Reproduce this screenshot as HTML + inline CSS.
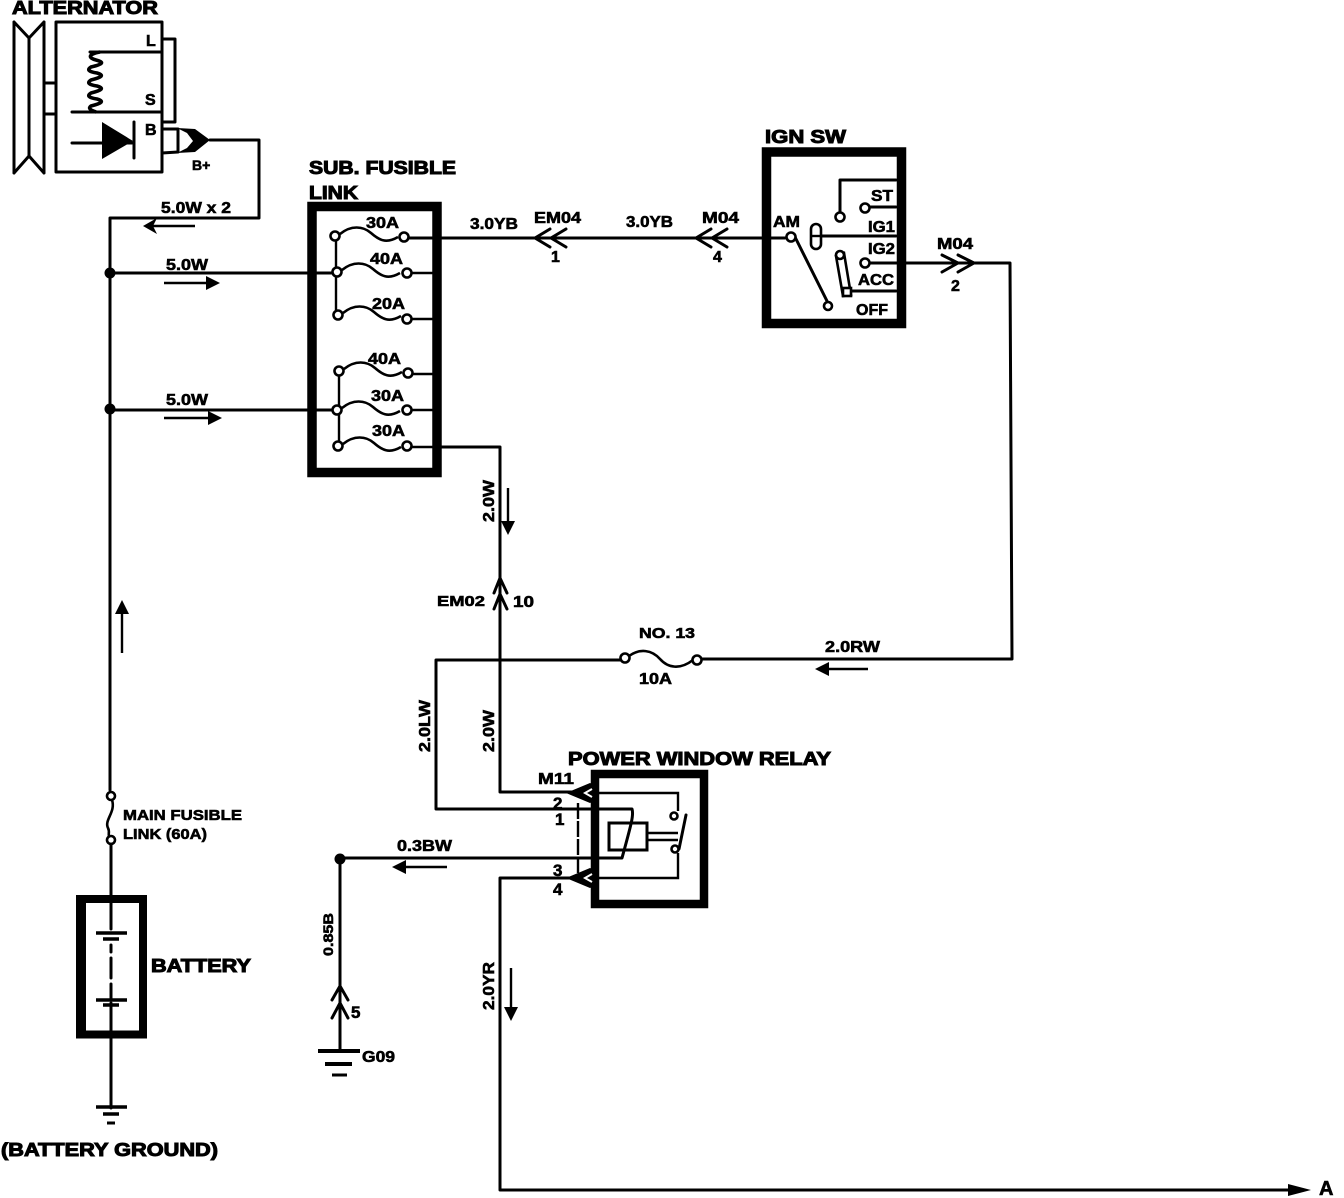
<!DOCTYPE html>
<html><head><meta charset="utf-8"><style>
html,body{margin:0;padding:0;background:#fff}
svg{display:block}
text{font-family:"Liberation Sans",sans-serif;font-weight:bold;fill:#000;stroke:#000;stroke-width:.6}
.w{fill:none;stroke:#000;stroke-width:3;stroke-linejoin:round;stroke-linecap:round}
.t{fill:none;stroke:#000;stroke-width:2.4}
.c{fill:#fff;stroke:#000;stroke-width:2.6}
.f{fill:none;stroke:#000;stroke-width:2.6}
.h{fill:#000;stroke:none}
.s{font-size:16px}.l{font-size:18px;stroke-width:1}
</style></head><body>
<svg width="1344" height="1198" viewBox="0 0 1344 1198" xmlns="http://www.w3.org/2000/svg">
<rect width="1344" height="1198" fill="#fff"/>
<defs>
<path id="fuse" d="M0,0c11,-9 23,-8 31,-1s15,11 27,4" class="f"/>
<path id="al" d="M0,0L14,-8L10,0L14,8Z" class="h"/>
</defs>

<!-- Alternator -->
<text x="12" y="14" class="l" textLength="146" lengthAdjust="spacingAndGlyphs">ALTERNATOR</text>
<path class="w" d="M14,22V173M44,22V173M29,38V157M14,22L29,38L44,22M14,173L29,156L44,173M44,83H56M44,114H56"/>
<path class="w" d="M56,22H162V172H56ZM162,39H175V122H162M90,52H160M72,112H160M72,143H132"/>
<path class="t" style="stroke-width:3.6" d="M100,52C88,54 88,58 96,60C104,62 104,64 91,67C86,70 90,72 97,73C104,75 103,77 91,80C86,83 90,85 97,86C104,88 103,90 91,93C86,96 90,98 97,99C104,101 103,103 91,106C88,108 90,110 96,112"/>
<path class="h" d="M102,122L133,141L102,159Z"/>
<path class="w" d="M134,122V158"/>
<path class="w" d="M162,129H178V152L162,153"/>
<path class="h" d="M177,128L195,129L210,140L195,152L177,153L187,148L193,141L187,133Z"/>
<text x="146" y="46" class="s">L</text><text x="145" y="105" class="s">S</text><text x="145" y="135" class="s">B</text><text x="192" y="170" font-size="14">B+</text>
<path class="w" d="M210,140H259V218H110V790"/>
<text x="161" y="213" class="s" textLength="70" lengthAdjust="spacingAndGlyphs">5.0W x 2</text>
<path class="t" d="M150,226H195"/><use href="#al" x="143" y="226"/>

<!-- Left wires -->
<circle cx="110" cy="273" r="5.500" class="h"/><circle cx="110" cy="409" r="5.500" class="h"/>
<path class="w" d="M110,273H335M110,410H335"/>
<text x="166" y="270" class="s" textLength="42" lengthAdjust="spacingAndGlyphs">5.0W</text>
<text x="166" y="405" class="s" textLength="42" lengthAdjust="spacingAndGlyphs">5.0W</text>
<path class="t" d="M164,283H212M164,418H214"/>
<path class="h" d="M220,283L206,276V290ZM222,418L208,411V425Z"/>
<path class="t" d="M122,610V653"/><path class="h" d="M122,600L115,614H129Z"/>

<!-- Sub fusible link -->
<text x="309" y="174" class="l" textLength="147" lengthAdjust="spacingAndGlyphs">SUB. FUSIBLE</text>
<text x="309" y="199" class="l" textLength="49" lengthAdjust="spacingAndGlyphs">LINK</text>
<rect x="312" y="206.500" width="125" height="266" fill="none" stroke="#000" stroke-width="9.500"/>
<path class="t" d="M336,240V315M339,375V446"/>
<use href="#fuse" x="340" y="234"/><use href="#fuse" x="342" y="270"/><use href="#fuse" x="343" y="313"/>
<use href="#fuse" x="344" y="369"/><use href="#fuse" x="342" y="408"/><use href="#fuse" x="343" y="444"/>
<path class="t" d="M412,273H433M412,319H433M413,374H433M412,410H433M412,447H441"/>
<circle class="c" cx="335" cy="236" r="4.500"/><circle class="c" cx="404" cy="237" r="4.500"/>
<circle class="c" cx="337" cy="272" r="4.500"/><circle class="c" cx="407" cy="273" r="4.500"/>
<circle class="c" cx="338" cy="315" r="4.500"/><circle class="c" cx="407" cy="319" r="4.500"/>
<circle class="c" cx="339" cy="371" r="4.500"/><circle class="c" cx="408" cy="373" r="4.500"/>
<circle class="c" cx="337" cy="410" r="4.500"/><circle class="c" cx="407" cy="410" r="4.500"/>
<circle class="c" cx="338" cy="446" r="4.500"/><circle class="c" cx="407" cy="446" r="4.500"/>
<g class="s"><text x="366" y="228" textLength="33" lengthAdjust="spacingAndGlyphs">30A</text>
<text x="370" y="264" textLength="33" lengthAdjust="spacingAndGlyphs">40A</text>
<text x="372" y="309" textLength="33" lengthAdjust="spacingAndGlyphs">20A</text>
<text x="368" y="364" textLength="33" lengthAdjust="spacingAndGlyphs">40A</text>
<text x="371" y="401" textLength="33" lengthAdjust="spacingAndGlyphs">30A</text>
<text x="372" y="436" textLength="33" lengthAdjust="spacingAndGlyphs">30A</text></g>

<!-- top wire -->
<path class="w" d="M409,238H785"/>
<text x="470" y="229" class="s" textLength="48" lengthAdjust="spacingAndGlyphs">3.0YB</text>
<text x="626" y="227" class="s" textLength="47" lengthAdjust="spacingAndGlyphs">3.0YB</text>
<text x="534" y="223" class="s" textLength="47" lengthAdjust="spacingAndGlyphs">EM04</text>
<text x="702" y="223" class="s" textLength="37" lengthAdjust="spacingAndGlyphs">M04</text>
<text x="551" y="262" font-size="16">1</text><text x="713" y="262" font-size="16">4</text>
<path class="w" d="M550,229L535,238L550,247M566,229L551,238L566,247M711,229L696,238L711,247M727,229L712,238L727,247"/>

<!-- IGN SW -->
<text x="765" y="143" class="l" textLength="81" lengthAdjust="spacingAndGlyphs">IGN SW</text>
<rect x="766.500" y="152" width="135" height="171.500" fill="none" stroke="#000" stroke-width="9.500"/>
<path class="w" d="M896,180H840V212M869,207H896M795,237L827,301M821,236H896M869,263H1010L1012,659H702M851,291H896"/>
<circle class="c" cx="840" cy="217" r="4.500"/><circle class="c" cx="865" cy="208" r="4.500"/><circle class="c" cx="791" cy="237" r="4.500"/><circle class="c" cx="828" cy="306" r="4"/><circle class="c" cx="865" cy="263" r="4.500"/>
<rect class="c" x="811" y="224" width="10" height="25" rx="5"/><path class="t" d="M811,236H821"/>
<path class="c" d="M836,256L844,253L851,295L843,296Z"/><circle class="c" cx="840" cy="255" r="4"/><rect class="c" x="843" y="288" width="8" height="8"/>
<g class="s"><text x="871" y="201" textLength="22" lengthAdjust="spacingAndGlyphs">ST</text><text x="868" y="232" textLength="27" lengthAdjust="spacingAndGlyphs">IG1</text><text x="868" y="254" textLength="27" lengthAdjust="spacingAndGlyphs">IG2</text><text x="858" y="285" textLength="36" lengthAdjust="spacingAndGlyphs">ACC</text><text x="856" y="315" textLength="32" lengthAdjust="spacingAndGlyphs">OFF</text><text x="773" y="227" textLength="27" lengthAdjust="spacingAndGlyphs">AM</text></g>
<text x="937" y="249" class="s" textLength="36" lengthAdjust="spacingAndGlyphs">M04</text>
<text x="951" y="291" font-size="16">2</text>
<path class="w" d="M942,255L958,263L942,272M958,255L974,263L958,272"/>

<!-- Fuse 13 -->
<path class="w" d="M436,660H621M436,660V809H632C634,815 631,825 622,858H340"/>
<path class="f" d="M629,656C640,648 652,650 660,659C668,668 680,670 693,660"/>
<circle class="c" cx="625" cy="658" r="4.500"/><circle class="c" cx="697" cy="660" r="4.500"/>
<text x="639" y="638" font-size="15" textLength="56" lengthAdjust="spacingAndGlyphs">NO. 13</text>
<text x="639" y="684" class="s" textLength="33" lengthAdjust="spacingAndGlyphs">10A</text>
<text x="825" y="652" class="s" textLength="55" lengthAdjust="spacingAndGlyphs">2.0RW</text>
<path class="t" d="M822,669H868"/><path class="h" d="M815,669L829,662V676Z"/>

<!-- vertical wires -->
<path class="w" d="M441,447H500V792H590M500,878H590M500,878V1190H1300"/>
<path class="w" d="M494,593L500,578L507,593M494,609L500,594L507,609"/>
<text transform="translate(494,522) rotate(-90)" class="s" textLength="42" lengthAdjust="spacingAndGlyphs">2.0W</text>
<text transform="translate(494,752) rotate(-90)" class="s" textLength="42" lengthAdjust="spacingAndGlyphs">2.0W</text>
<text transform="translate(430,752) rotate(-90)" class="s" textLength="52" lengthAdjust="spacingAndGlyphs">2.0LW</text>
<text transform="translate(494,1010) rotate(-90)" class="s" textLength="48" lengthAdjust="spacingAndGlyphs">2.0YR</text>
<text transform="translate(333,956) rotate(-90)" font-size="14" textLength="43" lengthAdjust="spacingAndGlyphs">0.85B</text>
<text x="437" y="606" font-size="15" textLength="48" lengthAdjust="spacingAndGlyphs">EM02</text>
<text x="513" y="607" font-size="16" textLength="21" lengthAdjust="spacingAndGlyphs">10</text>
<path class="t" d="M508,488V525M511,968V1012"/><path class="h" d="M508,535L501,521H515ZM511,1021L504,1007H518Z"/>

<!-- Relay -->
<text x="568" y="765" class="l" textLength="263" lengthAdjust="spacingAndGlyphs">POWER WINDOW RELAY</text>
<rect x="595" y="774" width="109" height="130" fill="none" stroke="#000" stroke-width="8.500"/>
<text x="538" y="784" class="s" textLength="36" lengthAdjust="spacingAndGlyphs">M11</text>
<text x="553" y="809" font-size="17">2</text><text x="555" y="825" font-size="17">1</text><text x="553" y="876" font-size="17">3</text><text x="553" y="895" font-size="17">4</text>
<path class="t" d="M590,793H678V811M678,853V878H590"/>
<path class="t" style="stroke-dasharray:16 2" d="M578,803V875"/>
<path class="h" d="M566,793L590,783L599,787V799L590,803ZM566,878L590,868L599,872V884L590,888Z"/>
<path d="M592,789L585,793L592,797M592,874L585,878L592,882" fill="none" stroke="#fff" stroke-width="2"/>
<rect x="609" y="823" width="38" height="27" fill="none" stroke="#000" stroke-width="3"/>
<path class="t" d="M647,833H678M647,840H678"/>
<path class="w" d="M686,815L679,849"/>
<circle class="c" cx="674" cy="816" r="3.500"/><circle class="c" cx="675" cy="849" r="3.500"/>
<text x="397" y="851" class="s" textLength="55" lengthAdjust="spacingAndGlyphs">0.3BW</text>
<path class="t" d="M400,867H447"/><path class="h" d="M392,867L406,860V874Z"/>
<circle cx="340" cy="859" r="5.500" class="h"/>
<path class="w" d="M340,859V1051"/>
<path class="w" d="M332,1000L340,986L348,1000M332,1018L340,1003L348,1018"/>
<text x="351" y="1018" font-size="17">5</text>
<path d="M318,1051H360" stroke="#000" stroke-width="4" fill="none"/><path d="M325,1064H352" stroke="#000" stroke-width="4" fill="none"/><path d="M332,1075H347" stroke="#000" stroke-width="3" fill="none"/>
<text x="362" y="1062" class="s" textLength="33" lengthAdjust="spacingAndGlyphs">G09</text>

<!-- A arrow -->
<path class="h" d="M1311,1190L1288,1184V1196Z"/>
<text x="1319" y="1195" font-size="20">A</text>

<!-- Main fusible / battery -->
<circle class="c" cx="111" cy="796" r="4"/><circle class="c" cx="111" cy="840" r="4"/>
<path class="f" d="M112,800C116,812 104,820 108,828C110,832 108,834 109,836"/>
<text x="123" y="820" font-size="15" textLength="119" lengthAdjust="spacingAndGlyphs">MAIN FUSIBLE</text>
<text x="123" y="839" font-size="15" textLength="84" lengthAdjust="spacingAndGlyphs">LINK (60A)</text>
<path class="w" d="M111,844V929M111,1003V1108M111,945V952M111,958V978M111,984V1000"/>
<path d="M81,895V1038" stroke="#000" stroke-width="10" fill="none"/>
<path d="M76,899H147M76,1034.500H147M143,895V1038" stroke="#000" stroke-width="8" fill="none"/>
<path d="M96,933H127M96,1000H127M96,1107H127" stroke="#000" stroke-width="3.500" fill="none"/>
<path d="M103,939H119M103,1005H119M103,1114H119" stroke="#000" stroke-width="3.500" fill="none"/>
<path d="M107,1123H115" stroke="#000" stroke-width="3" fill="none"/>
<text x="151" y="972" class="l" textLength="100" lengthAdjust="spacingAndGlyphs">BATTERY</text>
<text x="1" y="1156" class="l" textLength="217" lengthAdjust="spacingAndGlyphs">(BATTERY GROUND)</text>
</svg>
</body></html>
